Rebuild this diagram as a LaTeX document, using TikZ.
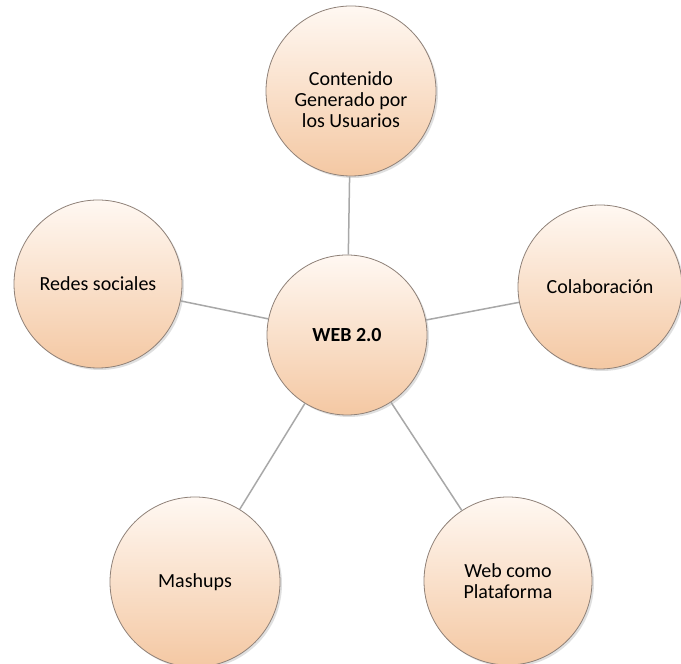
\documentclass[tikz,border=0pt]{standalone}
\usepackage{fontspec}
\setmainfont{Carlito}
\usetikzlibrary{shadows}
\definecolor{topc}{HTML}{FFF8F2}
\definecolor{botc}{HTML}{F4C8A3}
\definecolor{rimc}{HTML}{8F8178}
\definecolor{linkc}{HTML}{A8A8A8}
\tikzset{
  bubble/.style={circle, draw=rimc, line width=0.8pt, top color=topc, bottom color=botc,
    minimum size=#1, inner sep=0pt, align=center, text=black,
    font=\fontsize{20pt}{21pt}\selectfont,
    drop shadow={opacity=0.25, shadow xshift=2pt, shadow yshift=-2pt}},
  bubbletext/.style={align=center, text=black, font=\fontsize{20pt}{21pt}\selectfont},
  link/.style={draw=linkc, line width=1.5pt}
}
\begin{document}
\begin{tikzpicture}[x=1pt,y=1pt]
\useasboundingbox (0,0) rectangle (681,664);
\fill[white] (0,0) rectangle (681,664);
\node[bubble=160pt, font=\fontsize{20pt}{21pt}\selectfont\bfseries] (c) at (347,329) {WEB 2.0};
\node[bubble=170pt, label={[bubbletext, yshift=-9pt]center:Contenido\\Generado por\\los Usuarios}] (t) at (351,573) {};
\node[bubble=168pt] (l) at (98,380) {Redes sociales};
\node[bubble=164pt] (r) at (600,377) {Colaboración};
\node[bubble=170pt] (bl) at (195,82) {Mashups};
\node[bubble=168pt] (br) at (508,83) {Web como\\Plataforma};
\draw[link] (c) -- (t);
\draw[link] (c) -- (l);
\draw[link] (c) -- (r);
\draw[link] (c) -- (bl);
\draw[link] (c) -- (br);
\end{tikzpicture}
\end{document}
